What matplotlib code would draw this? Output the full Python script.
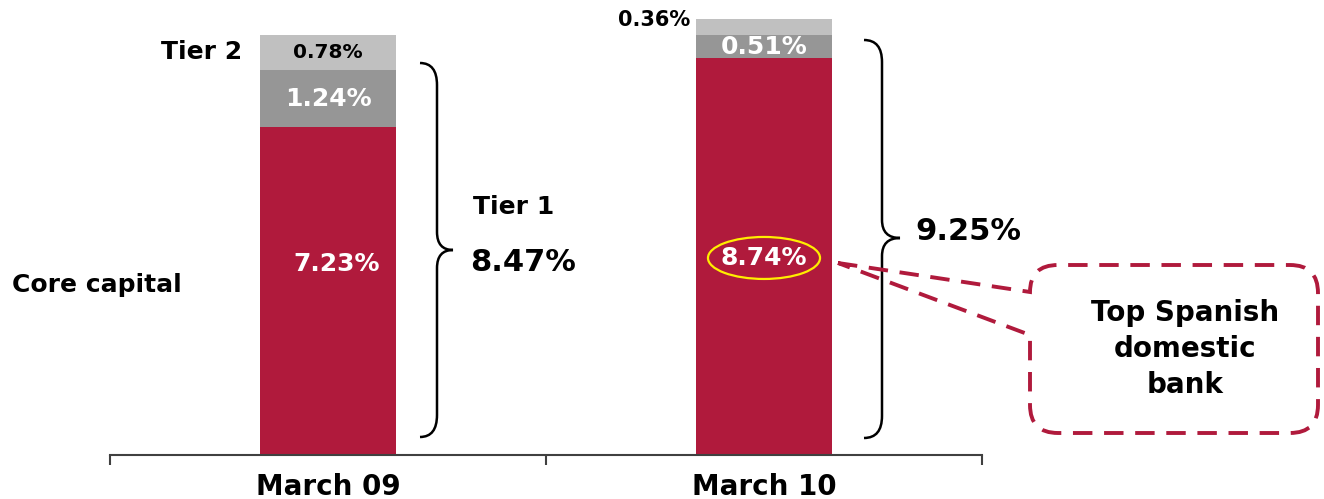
import numpy as np
import matplotlib
matplotlib.use("Agg")
import matplotlib.pyplot as plt
import matplotlib.transforms as mtransforms
from matplotlib.path import Path
from matplotlib.patches import PathPatch, Ellipse

plt.rcParams['font.family'] = ['DejaVu Sans']
plt.rcParams['font.weight'] = 'bold'

periods = ["March 09", "March 10"]
core_capital = [7.23, 8.74]
tier1_extra = [1.24, 0.51]
tier2 = [0.78, 0.36]
tier1_total = [8.47, 9.25]

RED = "#B01A3C"
MID_GREY = "#969696"
LIGHT_GREY = "#C0C0C0"

W, H = 1324, 499
fig = plt.figure(figsize=(W / 100, H / 100), dpi=100)
ax = fig.add_axes([110 / W, 44 / H, 872 / W, 454 / H])

# pixel-space transform (origin top-left) for the annotations
pix = mtransforms.Affine2D().scale(1 / W, -1 / H).translate(0, 1) + fig.transFigure

x = np.arange(len(periods))
core = np.array(core_capital)
extra = np.array(tier1_extra)
t2 = np.array(tier2)
width = 0.312

ax.bar(x, core, width, color=RED)
ax.bar(x, extra, width, bottom=core, color=MID_GREY)
ax.bar(x, t2, width, bottom=core + extra, color=LIGHT_GREY)

ax.set_xlim(-0.5, 1.5)
ax.set_ylim(0, 10)
for s in ["left", "top", "right"]:
    ax.spines[s].set_visible(False)
ax.spines["bottom"].set_color("#404040")
ax.spines["bottom"].set_linewidth(1.5)
ax.set_yticks([])
ax.set_xticks(x)
ax.set_xticklabels(periods, fontsize=20, fontweight="bold")
ax.set_xticks([-0.5, 0.5, 1.5], minor=True)
ax.tick_params(axis="x", which="major", length=0, pad=13)
ax.tick_params(axis="x", which="minor", length=7, width=1.5, color="#404040")

# segment labels
ax.text(0, core[0] + extra[0] + t2[0] / 2, f"{t2[0]:.2f}%", ha="center", va="center",
        fontsize=14.5, color="black")
ax.text(0, core[0] + extra[0] / 2, f"{extra[0]:.2f}%", ha="center", va="center",
        fontsize=18, color="white")
ax.text(0.02, 4.2, f"{core[0]:.2f}%", ha="center", va="center", fontsize=18, color="white")
ax.text(1, core[1] + extra[1] / 2, f"{extra[1]:.2f}%", ha="center", va="center",
        fontsize=18, color="white")
ax.text(1, 4.34, f"{core[1]:.2f}%", ha="center", va="center", fontsize=18, color="white")
ax.text(690, 20, f"{t2[1]:.2f}%", transform=pix, ha="right", va="center", fontsize=15)

ax.add_patch(Ellipse((1, 4.34), 0.257, 0.925, fill=False, edgecolor="#FFEE00", lw=1.6))

# side labels
ax.text(242, 52, "Tier 2", transform=pix, ha="right", va="center", fontsize=18)
ax.text(12, 285, "Core capital", transform=pix, ha="left", va="center", fontsize=18)
ax.text(473, 207, "Tier 1", transform=pix, ha="left", va="center", fontsize=18)
ax.text(470, 263, f"{tier1_total[0]:.2f}%", transform=pix, ha="left", va="center", fontsize=22)
ax.text(915, 232, f"{tier1_total[1]:.2f}%", transform=pix, ha="left", va="center", fontsize=22)


def brace(tip, spine, point, top, mid, bot, r=22, rm=18):
    verts = [(tip, top), (spine, top), (spine, top + r),
             (spine, mid - rm), (spine, mid), (point, mid),
             (spine, mid), (spine, mid + rm),
             (spine, bot - r), (spine, bot), (tip, bot)]
    codes = [Path.MOVETO, Path.CURVE3, Path.CURVE3,
             Path.LINETO, Path.CURVE3, Path.CURVE3,
             Path.CURVE3, Path.CURVE3,
             Path.LINETO, Path.CURVE3, Path.CURVE3]
    ax.add_patch(PathPatch(Path(verts, codes), transform=pix, fill=False,
                           edgecolor="black", lw=1.8, clip_on=False))


brace(420, 437, 453, 63, 250, 437)
brace(864, 882, 900, 40, 238, 438)

# dashed callout
L, R, T, B, rc = 1030, 1318, 265, 433, 28
tip = (838, 263)
verts = [tip, (L, 292), (L, T), (L + rc, T),
         (R - rc, T), (R, T), (R, T + rc),
         (R, B - rc), (R, B), (R - rc, B),
         (L + rc, B), (L, B), (L, B - rc),
         (L, 335), tip]
codes = [Path.MOVETO, Path.LINETO, Path.CURVE3, Path.CURVE3,
         Path.LINETO, Path.CURVE3, Path.CURVE3,
         Path.LINETO, Path.CURVE3, Path.CURVE3,
         Path.LINETO, Path.CURVE3, Path.CURVE3,
         Path.LINETO, Path.LINETO]
ax.add_patch(PathPatch(Path(verts, codes), transform=pix, fill=False, edgecolor=RED,
                       lw=2.8, linestyle=(0, (5.0, 3.0)), clip_on=False))
ax.text(1185, 349, "Top Spanish\ndomestic\nbank", transform=pix, ha="center", va="center",
        fontsize=20, linespacing=1.35)

fig.savefig("out.png", dpi=100)
